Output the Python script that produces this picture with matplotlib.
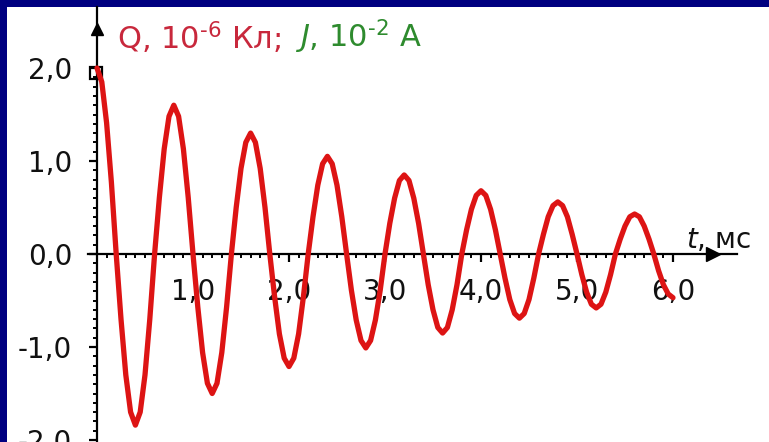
import matplotlib
matplotlib.use("Agg")
import matplotlib.pyplot as plt
from matplotlib.ticker import FixedLocator, FixedFormatter

# ---- data (t in ms, Q in 1e-6 C) ----
t_ms = [round(0.05 * i, 2) for i in range(121)]
q_vals = [
    2.00, 1.85, 1.41, 0.77, 0.00, -0.70, -1.30, -1.70,
    -1.84, -1.70, -1.30, -0.70, 0.00, 0.61, 1.13, 1.48,
    1.60, 1.48, 1.13, 0.61, 0.00, -0.57, -1.06, -1.39,
    -1.50, -1.39, -1.06, -0.57, 0.00, 0.50, 0.92, 1.20,
    1.30, 1.20, 0.92, 0.50, 0.00, -0.46, -0.86, -1.12,
    -1.21, -1.12, -0.86, -0.46, 0.00, 0.40, 0.74, 0.97,
    1.05, 0.97, 0.74, 0.40, 0.00, -0.39, -0.71, -0.93,
    -1.01, -0.93, -0.71, -0.39, 0.00, 0.33, 0.60, 0.79,
    0.85, 0.79, 0.60, 0.33, 0.00, -0.33, -0.60, -0.79,
    -0.85, -0.79, -0.60, -0.33, 0.00, 0.26, 0.48, 0.63,
    0.68, 0.63, 0.48, 0.26, 0.00, -0.26, -0.49, -0.64,
    -0.69, -0.64, -0.49, -0.26, 0.00, 0.21, 0.40, 0.52,
    0.56, 0.52, 0.40, 0.21, 0.00, -0.22, -0.41, -0.54,
    -0.58, -0.54, -0.41, -0.22, 0.00, 0.16, 0.30, 0.40,
    0.43, 0.40, 0.30, 0.16, 0.00, -0.18, -0.33, -0.43,
    -0.47,
]

x_ticks = [1, 2, 3, 4, 5, 6]
x_tick_labels = ["1,0", "2,0", "3,0", "4,0", "5,0", "6,0"]
y_ticks = [-2, -1, 0, 1, 2]
y_tick_labels = ["-2,0", "-1,0", "0,0", "1,0", "2,0"]
x_minor = [round(0.1 * i, 1) for i in range(1, 61)]
y_minor = [round(-2 + 0.1 * i, 1) for i in range(41)]

title_red = r"Q, 10$^{\text{-6}}$ Кл;"
title_green = r"$J$, 10$^{\text{-2}}$ A"
x_label = r"$t$, мс"

plt.rcParams["font.family"] = ["DejaVu Sans"]
plt.rcParams["mathtext.fontset"] = "custom"
plt.rcParams["mathtext.rm"] = "DejaVu Sans"
plt.rcParams["mathtext.it"] = "DejaVu Sans:italic"

W, H = 769, 442
fig = plt.figure(figsize=(W / 100, H / 100), dpi=100, facecolor="#000080")
# white area starts 7px from left and top
ax = fig.add_axes([7 / W, 0, (W - 7) / W, (H - 7) / H])
ax.set_facecolor("white")

x0_px, y0_px = 97, 254
sx, sy = 96.0, 93.0
ax.set_xlim((7 - x0_px) / sx, (W - x0_px) / sx)
ax.set_ylim(-(H - y0_px) / sy, (y0_px - 7) / sy)

for s in ["top", "right"]:
    ax.spines[s].set_visible(False)
ax.spines["left"].set_position(("data", 0))
ax.spines["bottom"].set_position(("data", 0))
ax.spines["left"].set_linewidth(1.6)
ax.spines["bottom"].set_linewidth(1.6)
ax.spines["left"].set_bounds(-2.1, (y0_px - 7) / sy)
ax.spines["bottom"].set_bounds(-0.09, 6.67)

ax.xaxis.set_major_locator(FixedLocator(x_ticks))
ax.xaxis.set_major_formatter(FixedFormatter(x_tick_labels))
ax.yaxis.set_major_locator(FixedLocator(y_ticks))
ax.yaxis.set_major_formatter(FixedFormatter(y_tick_labels))
ax.xaxis.set_minor_locator(FixedLocator(x_minor))
ax.yaxis.set_minor_locator(FixedLocator(y_minor))

ax.tick_params(axis="both", which="major", direction="out", length=6,
               width=1.6, labelsize=20, colors="black", labelcolor="#111111")
ax.tick_params(axis="both", which="minor", direction="out", length=3, width=1.4)
ax.tick_params(axis="y", which="major", pad=12)
ax.tick_params(axis="x", which="major", pad=11)

# axis arrows
ax.plot([0], [2.42], marker="^", color="black", markersize=8, clip_on=False)
ax.plot([6.42], [0], marker=">", color="black", markersize=10, clip_on=False)
# small square at the start point
ax.plot([-0.015], [1.95], marker="s", mfc="none", mec="black", mew=1.6,
        markersize=8)

ax.plot(t_ms, q_vals, color="#dd1414", linewidth=3.8, solid_capstyle="round",
        solid_joinstyle="round", zorder=3)

txt = ax.text(0.21, 2.20, title_red, color="#c8283c", fontsize=22,
              ha="left", va="baseline")
ax.annotate(title_green, xy=(1, 0), xycoords=txt, xytext=(10, 0),
            textcoords="offset points", color="#2e8b2e",
            fontsize=22, ha="left", va="bottom")
ax.text(6.14, 0.065, x_label, color="#111111", fontsize=20,
        ha="left", va="baseline")

fig.savefig("out.png", dpi=100, facecolor=fig.get_facecolor())
